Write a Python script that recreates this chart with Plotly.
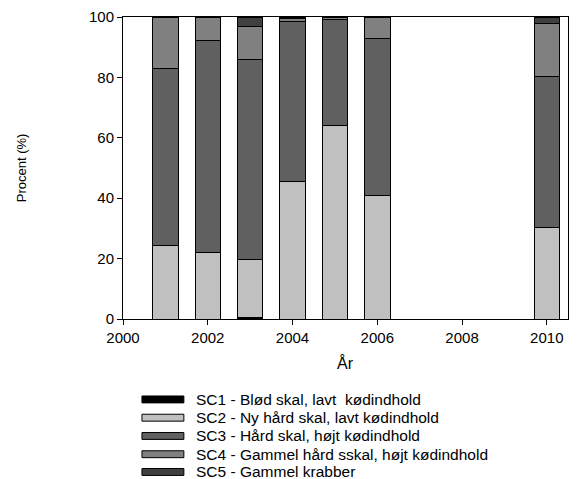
import plotly.graph_objects as go

years = [2001, 2002, 2003, 2004, 2005, 2006, 2010]
sc1 = [0.0, 0.0, 0.4, 0.0, 0.0, 0.0, 0.0]
sc2 = [24.5, 21.9, 19.3, 45.4, 64.0, 40.8, 30.4]
sc3 = [58.5, 70.3, 66.3, 53.0, 35.3, 52.2, 50.0]
sc4 = [17.0, 7.8, 10.7, 1.2, 0.7, 7.0, 17.6]
sc5 = [0.0, 0.0, 3.3, 0.4, 0.0, 0.0, 2.0]

names = [
    "SC1 - Blød skal, lavt  kødindhold",
    "SC2 - Ny hård skal, lavt kødindhold",
    "SC3 - Hård skal, højt kødindhold",
    "SC4 - Gammel hård sskal, højt kødindhold",
    "SC5 - Gammel krabber",
]
colors = ["#000000", "#c0c0c0", "#606060", "#808080", "#404040"]
series = [sc1, sc2, sc3, sc4, sc5]

x_ticks = [2000, 2002, 2004, 2006, 2008, 2010]
y_ticks = [0, 20, 40, 60, 80, 100]

FONT = "Liberation Sans, Arial, sans-serif"

fig = go.Figure()
for name, col, vals in zip(names, colors, series):
    fig.add_trace(go.Bar(
        x=years, y=vals, name=name, width=0.6,
        marker=dict(color=col, line=dict(color="#000000", width=1)),
        showlegend=False,
    ))

W, H = 577, 479
L, R, T, B = 123, 8, 13, 160
pw = W - L - R
ph = H - T - B

def px_to_paper_x(px):
    return (px - L) / pw

def px_to_paper_y(py):
    return (H - B - py) / ph

shapes = []
annotations = []
row_y = [400.5, 419, 437.5, 456, 474]
for i, (name, col) in enumerate(zip(names, colors)):
    yc = row_y[i]
    shapes.append(dict(
        type="rect", xref="paper", yref="paper",
        x0=px_to_paper_x(142), x1=px_to_paper_x(184),
        y0=px_to_paper_y(yc + 3.5), y1=px_to_paper_y(yc - 3.5),
        fillcolor=col, line=dict(color="#000000", width=1),
    ))
    annotations.append(dict(
        x=px_to_paper_x(194), y=px_to_paper_y(yc), xref="paper", yref="paper",
        text=name, showarrow=False, xanchor="left", yanchor="middle",
        font=dict(family=FONT, size=15.5, color="#000000"),
    ))

annotations.append(dict(
    x=px_to_paper_x(21), y=0.5, xref="paper", yref="paper",
    text="Procent (%)", showarrow=False, textangle=-90,
    xanchor="center", yanchor="middle",
    font=dict(family=FONT, size=13, color="#000000"),
))
annotations.append(dict(
    x=px_to_paper_x(346), y=px_to_paper_y(364), xref="paper", yref="paper",
    text="År", showarrow=False, xanchor="center", yanchor="middle",
    font=dict(family=FONT, size=16, color="#000000"),
))

fig.update_layout(
    width=W, height=H,
    margin=dict(l=L, r=R, t=T, b=B, pad=0),
    barmode="stack",
    plot_bgcolor="white", paper_bgcolor="white",
    font=dict(family=FONT, size=15, color="#000000"),
    shapes=shapes, annotations=annotations,
    showlegend=False,
)
fig.update_xaxes(
    range=[2000, 2010.5], tickvals=x_ticks, ticktext=[str(v) for v in x_ticks],
    ticks="outside", ticklen=5, tickcolor="#000000", tickwidth=1,
    showline=True, linecolor="#000000", linewidth=1, mirror=True,
    showgrid=False, zeroline=False, tickfont=dict(size=15),
)
fig.update_yaxes(
    range=[0, 100], tickvals=y_ticks, ticktext=[str(v) for v in y_ticks],
    ticks="outside", ticklen=5, tickcolor="#000000", tickwidth=1,
    showline=True, linecolor="#000000", linewidth=1, mirror=True,
    showgrid=False, zeroline=False, tickfont=dict(size=15),
)

fig.write_html("out.html", config={"displayModeBar": False},
               post_script="document.body.style.margin='0';")
